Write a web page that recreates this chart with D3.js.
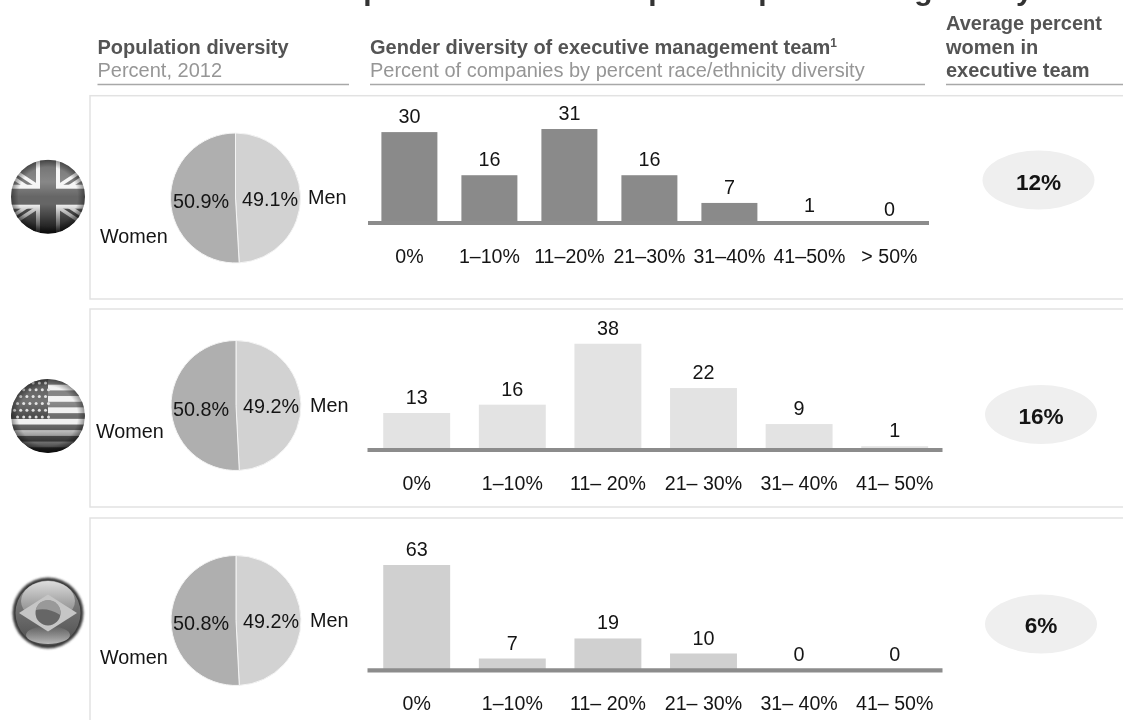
<!DOCTYPE html>
<html><head><meta charset="utf-8">
<script src="https://cdn.jsdelivr.net/npm/d3@7"></script>
<style>
html,body{margin:0;padding:0;background:#fff;overflow:hidden}
svg{display:block;filter:blur(0.4px)}
text{font-family:"Liberation Sans",Arial,sans-serif}
</style></head><body>
<svg id="c" width="1123" height="720"></svg>
<script>
const titleStart = "Women are still underrepresented across top of corporate";
const titleEnd = "gateway";
const countries = ["United Kingdom","United States","Brazil"];
const categoriesUK = ["0%","1–10%","11–20%","21–30%","31–40%","41–50%","> 50%"];
const categoriesUS = ["0%","1–10%","11– 20%","21– 30%","31– 40%","41– 50%"];
const categoriesBR = ["0%","1–10%","11– 20%","21– 30%","31– 40%","41– 50%"];
const valuesUK = [30,16,31,16,7,1,0];
const valuesUS = [13,16,38,22,9,1];
const valuesBR = [63,7,19,10,0,0];
const womenShare = [50.9,50.8,50.8];
const menShare = [49.1,49.2,49.2];
const avgWomen = ["12%","16%","6%"];

const layout = [
 {cats:categoriesUK,vals:valuesUK,panel:[95.7,299],pie:[235.5,198],x:[369.4,929.4],base:224.5,pxPerUnit:3.08,axisY:223,axisX:[368,929],barFill:"#8a8a8a",labelY:263,
  wlab:[207.5,205.7,203.7,243,100,173,242,308],ell:[1038.5,180],avgY:190,flagY:196.7},
 {cats:categoriesUS,vals:valuesUS,panel:[309,507],pie:[236,405.5],x:[368.9,942.5],base:449,pxPerUnit:2.77,axisY:450,axisX:[367.5,942.5],barFill:"#e3e3e3",labelY:490,
  wlab:[415.7,413,412,437.7,96,173,243,310],ell:[1041,414.5],avgY:424,flagY:416},
 {cats:categoriesBR,vals:valuesBR,panel:[518,760],pie:[236,620.5],x:[368.9,942.5],base:670.2,pxPerUnit:1.67,axisY:670.3,axisX:[367.5,942.5],barFill:"#d0d0d0",labelY:710,
  wlab:[630,628,627,664,100,173,243,310],ell:[1041,624],avgY:633,flagY:613}
];

const svg = d3.select("#c");
const defs = svg.append("defs");
const ink="#141414";

// title (only its descenders fall inside the frame)
const titleEl=svg.append("text").attr("x",22).attr("y",0).attr("font-size",30).attr("font-weight","bold").attr("fill","#333").text(titleStart);
titleEl.append("tspan").attr("dx",56).text(" "+titleEnd);

// column headers
function hdr(x,y,t,bold){return svg.append("text").attr("x",x).attr("y",y).attr("font-size",20)
  .attr("font-weight",bold?"bold":"normal").attr("fill",bold?"#545454":"#969696").text(t);}
hdr(97.5,54,"Population diversity",true);
hdr(97.5,77,"Percent, 2012",false);
const h2=hdr(370,54,"Gender diversity of executive management team",true);
h2.append("tspan").attr("dy",-7).attr("font-size",12).text("1");
hdr(370,77,"Percent of companies by percent race/ethnicity diversity",false);
hdr(946,30,"Average percent",true);
hdr(946,54,"women in",true);
hdr(946,77,"executive team",true);
[[97.5,349],[370,925],[946,1123]].forEach(d=>svg.append("line").attr("x1",d[0]).attr("x2",d[1]).attr("y1",84.5).attr("y2",84.5).attr("stroke","#a8a8a8").attr("stroke-width",1.5));

// gradients for the flag spheres
const gl=defs.append("linearGradient").attr("id","shade").attr("x1",0).attr("x2",0).attr("y1",0).attr("y2",1);
[[0,"#fff",0.05],[0.3,"#fff",0.22],[0.5,"#fff",0],[0.6,"#000",0],[1,"#000",0.85]].forEach(s=>gl.append("stop").attr("offset",s[0]).attr("stop-color",s[1]).attr("stop-opacity",s[2]));
const gr=defs.append("radialGradient").attr("id","rim");
[[0.8,"#000",0],[1,"#000",0.4]].forEach(s=>gr.append("stop").attr("offset",s[0]).attr("stop-color",s[1]).attr("stop-opacity",s[2]));
const gt=defs.append("linearGradient").attr("id","brTop").attr("x1",0).attr("x2",0).attr("y1",0).attr("y2",1);
[[0,"#ddd",1],[1,"#888",0.7]].forEach(s=>gt.append("stop").attr("offset",s[0]).attr("stop-color",s[1]).attr("stop-opacity",s[2]));
const gg=defs.append("linearGradient").attr("id","brGlow").attr("x1",0).attr("x2",0).attr("y1",0).attr("y2",1);
[[0,"#ccc",0],[1,"#ccc",0.85]].forEach(s=>gg.append("stop").attr("offset",s[0]).attr("stop-color",s[1]).attr("stop-opacity",s[2]));
const gs=defs.append("linearGradient").attr("id","brSphere").attr("x1",0).attr("x2",0).attr("y1",0).attr("y2",1);
[[0,"#8d8d8d"],[1,"#4e4e4e"]].forEach(s=>gs.append("stop").attr("offset",s[0]).attr("stop-color",s[1]));
defs.append("filter").attr("id","soft").attr("x","-20%").attr("y","-20%").attr("width","140%").attr("height","140%").append("feGaussianBlur").attr("stdDeviation",1.3);

function flagFrame(i,cx,cy,r){
  defs.append("clipPath").attr("id","fc"+i).append("circle").attr("cx",cx).attr("cy",cy).attr("r",r);
  return svg.append("g").attr("clip-path",`url(#fc${i})`);
}
function overlay(g,cx,cy,r){
  g.append("circle").attr("cx",cx).attr("cy",cy).attr("r",r).attr("fill","url(#shade)");
  g.append("circle").attr("cx",cx).attr("cy",cy).attr("r",r).attr("fill","url(#rim)");
}
function ukFlag(cx,cy,r){
  const g=flagFrame(0,cx,cy,r);
  g.append("rect").attr("x",cx-r).attr("y",cy-r).attr("width",2*r).attr("height",2*r).attr("fill","#6a6a6a");
  [[-1,-1],[1,-1],[-1,1],[1,1]].forEach(s=>{
    g.append("line").attr("x1",cx).attr("y1",cy).attr("x2",cx+s[0]*r*1.25).attr("y2",cy+s[1]*r*.82).attr("stroke","#f4f4f4").attr("stroke-width",10);
    g.append("line").attr("x1",cx).attr("y1",cy).attr("x2",cx+s[0]*r*1.25).attr("y2",cy+s[1]*r*.82).attr("stroke","#5a5a5a").attr("stroke-width",3);
  });
  g.append("rect").attr("x",cx-r).attr("y",cy-12).attr("width",2*r).attr("height",24).attr("fill","#f4f4f4");
  g.append("rect").attr("x",cx-12).attr("y",cy-r).attr("width",24).attr("height",2*r).attr("fill","#f4f4f4");
  g.append("rect").attr("x",cx-r).attr("y",cy-8).attr("width",2*r).attr("height",16).attr("fill","#666");
  g.append("rect").attr("x",cx-8).attr("y",cy-r).attr("width",16).attr("height",2*r).attr("fill","#666");
  overlay(g,cx,cy,r);
}
function usFlag(cx,cy,r){
  const g=flagFrame(1,cx,cy,r);
  const h=2*r/13;
  d3.range(13).forEach(k=>g.append("rect").attr("x",cx-r).attr("y",cy-r+k*h).attr("width",2*r).attr("height",h+.3).attr("fill",k%2?"#f0f0f0":"#6e6e6e"));
  g.append("rect").attr("x",cx-r).attr("y",cy-r).attr("width",r).attr("height",h*7).attr("fill","#4d4d4d");
  d3.range(6).forEach(a=>d3.range(6).forEach(b=>g.append("circle").attr("cx",cx-r+3.5+a*6.2+(b%2)*3).attr("cy",cy-r+4+b*6.8).attr("r",1.5).attr("fill","#dedede")));
  overlay(g,cx,cy,r);
}
function brFlag(cx,cy,r){
  svg.append("circle").attr("cx",cx).attr("cy",cy).attr("r",r).attr("fill","#3a3a3a").attr("filter","url(#soft)");
  const g=flagFrame(2,cx,cy,r-1);
  g.append("circle").attr("cx",cx).attr("cy",cy).attr("r",r-3).attr("fill","url(#brSphere)");
  g.append("ellipse").attr("cx",cx).attr("cy",cy-12).attr("rx",r*.76).attr("ry",r*.56).attr("fill","url(#brTop)");
  g.append("ellipse").attr("cx",cx).attr("cy",cy+22).attr("rx",r*.62).attr("ry",9).attr("fill","url(#brGlow)");
  g.append("path").attr("d",`M${cx-29},${cy} L${cx},${cy-18.5} L${cx+29},${cy} L${cx},${cy+18.5} Z`).attr("fill","#c6c6c6");
  g.append("circle").attr("cx",cx).attr("cy",cy).attr("r",12.5).attr("fill","#666");
  g.append("path").attr("d",`M${cx-12.3},${cy-3} A12.5,12.5 0 0 1 ${cx+12.3},${cy+2} Q${cx},${cy-6} ${cx-12.3},${cy-3} Z`).attr("fill","#999");
}

layout.forEach((L,i)=>{
  // panel frame
  svg.append("rect").attr("x",90).attr("y",L.panel[0]).attr("width",1100).attr("height",L.panel[1]-L.panel[0])
    .attr("fill","none").attr("stroke","#e2e2e2").attr("stroke-width",1.5);

  // pie
  const pieData=d3.pie().sort(null)([menShare[i],womenShare[i]]);
  const arc=d3.arc().innerRadius(0).outerRadius(65);
  const gp=svg.append("g").attr("transform",`translate(${L.pie[0]},${L.pie[1]})`);
  gp.selectAll("path").data(pieData).join("path").attr("d",arc)
    .attr("fill",(d,k)=>k===0?"#d2d2d2":"#afafaf").attr("stroke","#f4f4f4").attr("stroke-width",1);
  const w=L.wlab;
  const t=(x,y,s,anchor,size,bold)=>svg.append("text").attr("x",x).attr("y",y).attr("text-anchor",anchor||"start")
    .attr("font-size",size||19.8).attr("font-weight",bold?"bold":"normal").attr("fill",ink).text(s);
  t(w[5],w[0],womenShare[i].toFixed(1)+"%");
  t(w[6],w[1],menShare[i].toFixed(1)+"%");
  t(w[7],w[2],"Men");
  t(w[4],w[3],"Women");

  // bars
  const x=d3.scaleBand().domain(L.cats).range(L.x).paddingInner(0.3).paddingOuter(0.15);
  const maxV=d3.max(L.vals);
  const y=d3.scaleLinear().domain([0,maxV]).range([L.base,L.base-maxV*L.pxPerUnit]);
  const g=svg.append("g");
  g.selectAll("rect").data(L.vals).join("rect")
    .attr("x",(d,k)=>x(L.cats[k])).attr("width",x.bandwidth())
    .attr("y",d=>y(d)).attr("height",d=>y(0)-y(d)).attr("fill",L.barFill);
  g.selectAll("text").data(L.vals).join("text")
    .attr("x",(d,k)=>x(L.cats[k])+x.bandwidth()/2).attr("y",d=>y(d)-9)
    .attr("text-anchor","middle").attr("font-size",19.8).attr("fill",ink).text(d=>d);

  // category axis
  const ax=svg.append("g").attr("transform",`translate(0,${L.axisY})`)
    .call(d3.axisBottom(x).tickSize(0).tickSizeOuter(0));
  ax.select(".domain").attr("stroke","#8c8c8c").attr("stroke-width",4.2)
    .attr("d",`M${L.axisX[0]},0H${L.axisX[1]}`);
  ax.selectAll("text").attr("y",L.labelY-L.axisY).attr("dy",0).attr("font-size",19.6)
    .attr("font-family",'"Liberation Sans",Arial,sans-serif').attr("fill",ink);

  // average pill
  svg.append("ellipse").attr("cx",L.ell[0]).attr("cy",L.ell[1]).attr("rx",56).attr("ry",29.5).attr("fill","#efefef");
  t(L.ell[0],L.avgY,avgWomen[i],"middle",22.6,true);
});

ukFlag(48,layout[0].flagY,37);
usFlag(48,layout[1].flagY,37);
brFlag(48,layout[2].flagY,35.5);
</script>
</body></html>
